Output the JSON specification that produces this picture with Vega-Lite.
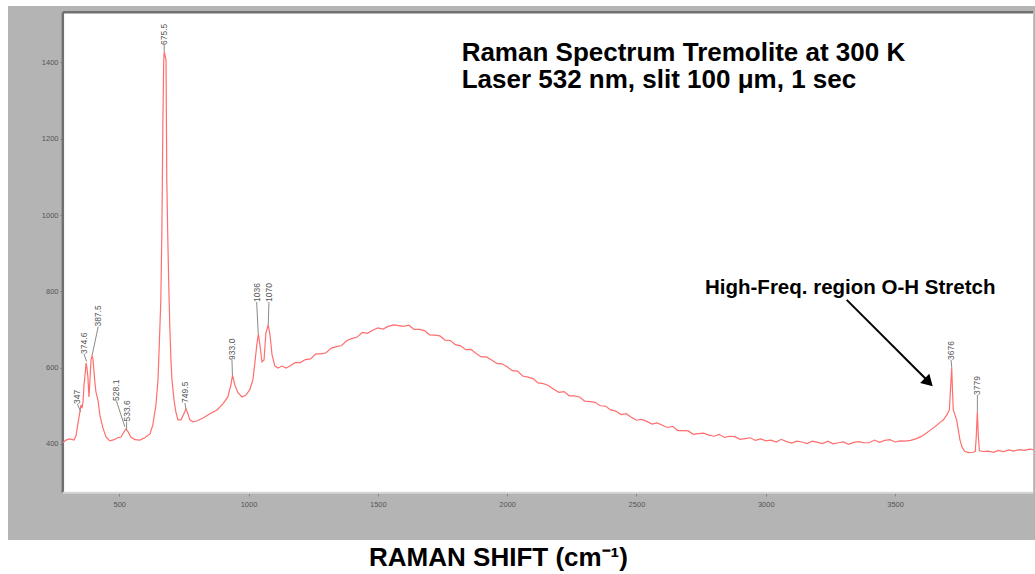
{
  "$schema": "https://vega.github.io/schema/vega-lite/v6.json",
  "width": 1027,
  "height": 534,
  "autosize": {"type": "none"},
  "padding": {"left": 8, "top": 6, "right": 0, "bottom": 34},
  "background": "white",
  "config": {
    "view": {"fill": "#b4b4b4", "stroke": null},
    "font": "Liberation Sans"
  },
  "datasets": {
    "spectrum": [
      {"x": 282, "y": 403}, {"x": 294, "y": 410}, {"x": 309, "y": 413}, {"x": 325, "y": 410},
      {"x": 333, "y": 421}, {"x": 340, "y": 452}, {"x": 348, "y": 484}, {"x": 352, "y": 502},
      {"x": 356, "y": 494}, {"x": 360, "y": 510}, {"x": 364, "y": 555}, {"x": 368, "y": 581},
      {"x": 372, "y": 612}, {"x": 375, "y": 600}, {"x": 379, "y": 575}, {"x": 383, "y": 523},
      {"x": 387, "y": 568}, {"x": 391, "y": 620}, {"x": 395, "y": 631}, {"x": 398, "y": 625},
      {"x": 402, "y": 594}, {"x": 406, "y": 562}, {"x": 410, "y": 536}, {"x": 418, "y": 515},
      {"x": 425, "y": 476}, {"x": 437, "y": 442}, {"x": 449, "y": 418}, {"x": 464, "y": 408},
      {"x": 480, "y": 411}, {"x": 495, "y": 416}, {"x": 507, "y": 418}, {"x": 518, "y": 431},
      {"x": 526, "y": 439}, {"x": 534, "y": 432}, {"x": 545, "y": 418}, {"x": 561, "y": 411},
      {"x": 580, "y": 410}, {"x": 599, "y": 416}, {"x": 619, "y": 426}, {"x": 630, "y": 450},
      {"x": 642, "y": 502}, {"x": 650, "y": 568}, {"x": 657, "y": 699}, {"x": 661, "y": 778},
      {"x": 665, "y": 961}, {"x": 669, "y": 1249}, {"x": 672, "y": 1400}, {"x": 674, "y": 1428},
      {"x": 677, "y": 1420}, {"x": 681, "y": 1406}, {"x": 684, "y": 1092}, {"x": 688, "y": 935},
      {"x": 692, "y": 804}, {"x": 696, "y": 699}, {"x": 700, "y": 620}, {"x": 704, "y": 568},
      {"x": 712, "y": 515}, {"x": 719, "y": 484}, {"x": 727, "y": 463}, {"x": 739, "y": 463},
      {"x": 750, "y": 479}, {"x": 758, "y": 492}, {"x": 766, "y": 479}, {"x": 773, "y": 463},
      {"x": 785, "y": 458}, {"x": 800, "y": 460}, {"x": 824, "y": 468}, {"x": 851, "y": 479},
      {"x": 878, "y": 489}, {"x": 901, "y": 505}, {"x": 920, "y": 523}, {"x": 932, "y": 555},
      {"x": 938, "y": 580}, {"x": 947, "y": 555}, {"x": 959, "y": 534}, {"x": 975, "y": 523},
      {"x": 990, "y": 528}, {"x": 1005, "y": 542}, {"x": 1017, "y": 568}, {"x": 1025, "y": 615},
      {"x": 1032, "y": 660}, {"x": 1038, "y": 688}, {"x": 1044, "y": 660}, {"x": 1052, "y": 615},
      {"x": 1060, "y": 620}, {"x": 1067, "y": 690}, {"x": 1076, "y": 712}, {"x": 1083, "y": 686},
      {"x": 1091, "y": 633}, {"x": 1102, "y": 604}, {"x": 1114, "y": 599}, {"x": 1129, "y": 604},
      {"x": 1145, "y": 599}, {"x": 1160, "y": 604},
      {"x": 1180, "y": 613}, {"x": 1200, "y": 613}, {"x": 1220, "y": 621}, {"x": 1240, "y": 623},
      {"x": 1260, "y": 636}, {"x": 1280, "y": 636}, {"x": 1300, "y": 639}, {"x": 1320, "y": 651},
      {"x": 1340, "y": 655}, {"x": 1360, "y": 658}, {"x": 1380, "y": 671}, {"x": 1400, "y": 676},
      {"x": 1420, "y": 680}, {"x": 1440, "y": 692}, {"x": 1460, "y": 690}, {"x": 1480, "y": 698},
      {"x": 1500, "y": 704}, {"x": 1520, "y": 701}, {"x": 1540, "y": 708}, {"x": 1560, "y": 712},
      {"x": 1580, "y": 710}, {"x": 1600, "y": 708}, {"x": 1620, "y": 711}, {"x": 1640, "y": 700},
      {"x": 1660, "y": 700}, {"x": 1680, "y": 697}, {"x": 1700, "y": 686}, {"x": 1720, "y": 685},
      {"x": 1740, "y": 683}, {"x": 1760, "y": 672}, {"x": 1780, "y": 671}, {"x": 1800, "y": 660},
      {"x": 1820, "y": 657}, {"x": 1840, "y": 647}, {"x": 1860, "y": 648}, {"x": 1880, "y": 637},
      {"x": 1900, "y": 628}, {"x": 1920, "y": 628}, {"x": 1940, "y": 620}, {"x": 1960, "y": 611},
      {"x": 1980, "y": 610}, {"x": 2000, "y": 602}, {"x": 2020, "y": 592}, {"x": 2040, "y": 591},
      {"x": 2060, "y": 578}, {"x": 2080, "y": 575}, {"x": 2100, "y": 571}, {"x": 2120, "y": 560},
      {"x": 2140, "y": 558}, {"x": 2160, "y": 553}, {"x": 2180, "y": 543}, {"x": 2200, "y": 535},
      {"x": 2220, "y": 537}, {"x": 2240, "y": 526}, {"x": 2260, "y": 526}, {"x": 2280, "y": 523},
      {"x": 2300, "y": 512}, {"x": 2320, "y": 511}, {"x": 2340, "y": 509}, {"x": 2360, "y": 500},
      {"x": 2380, "y": 499}, {"x": 2400, "y": 489}, {"x": 2420, "y": 486}, {"x": 2440, "y": 477},
      {"x": 2460, "y": 479}, {"x": 2480, "y": 470}, {"x": 2500, "y": 462}, {"x": 2520, "y": 464},
      {"x": 2540, "y": 459}, {"x": 2560, "y": 452}, {"x": 2580, "y": 455}, {"x": 2600, "y": 449},
      {"x": 2620, "y": 443}, {"x": 2640, "y": 446}, {"x": 2660, "y": 435}, {"x": 2680, "y": 435},
      {"x": 2700, "y": 434}, {"x": 2720, "y": 425}, {"x": 2740, "y": 427}, {"x": 2760, "y": 428},
      {"x": 2780, "y": 423}, {"x": 2800, "y": 420}, {"x": 2820, "y": 425}, {"x": 2840, "y": 417},
      {"x": 2860, "y": 420}, {"x": 2880, "y": 419}, {"x": 2900, "y": 412}, {"x": 2920, "y": 414},
      {"x": 2940, "y": 416}, {"x": 2960, "y": 409}, {"x": 2980, "y": 413}, {"x": 3000, "y": 408},
      {"x": 3020, "y": 410}, {"x": 3040, "y": 405}, {"x": 3060, "y": 412}, {"x": 3080, "y": 406},
      {"x": 3100, "y": 402}, {"x": 3120, "y": 407}, {"x": 3140, "y": 405}, {"x": 3160, "y": 401},
      {"x": 3180, "y": 407}, {"x": 3200, "y": 404}, {"x": 3220, "y": 401}, {"x": 3240, "y": 407},
      {"x": 3260, "y": 400}, {"x": 3280, "y": 403}, {"x": 3300, "y": 405}, {"x": 3320, "y": 399},
      {"x": 3340, "y": 404}, {"x": 3360, "y": 406}, {"x": 3380, "y": 403}, {"x": 3400, "y": 403},
      {"x": 3420, "y": 410}, {"x": 3440, "y": 404}, {"x": 3460, "y": 409}, {"x": 3480, "y": 411},
      {"x": 3500, "y": 405}, {"x": 3520, "y": 408}, {"x": 3540, "y": 407}, {"x": 3560, "y": 409},
      {"x": 3580, "y": 413}, {"x": 3600, "y": 419}, {"x": 3620, "y": 428}, {"x": 3640, "y": 438},
      {"x": 3660, "y": 448}, {"x": 3675, "y": 457}, {"x": 3687, "y": 463}, {"x": 3700, "y": 476},
      {"x": 3710, "y": 489}, {"x": 3714, "y": 540}, {"x": 3719, "y": 599}, {"x": 3722, "y": 540},
      {"x": 3725, "y": 489}, {"x": 3738, "y": 463}, {"x": 3751, "y": 410}, {"x": 3760, "y": 390},
      {"x": 3770, "y": 380}, {"x": 3785, "y": 377}, {"x": 3800, "y": 378}, {"x": 3810, "y": 380},
      {"x": 3814, "y": 420}, {"x": 3818, "y": 485}, {"x": 3822, "y": 420}, {"x": 3826, "y": 382},
      {"x": 3840, "y": 380}, {"x": 3860, "y": 381}, {"x": 3880, "y": 378}, {"x": 3900, "y": 383},
      {"x": 3920, "y": 380}, {"x": 3940, "y": 384}, {"x": 3960, "y": 381}, {"x": 3980, "y": 385},
      {"x": 4000, "y": 383}, {"x": 4020, "y": 386}, {"x": 4034, "y": 385}
    ],
    "peaks": [
      {"label": "347", "px": 350.7, "py": 484.7, "lx": 338.3, "ly": 504.8},
      {"label": "374.6", "px": 373.9, "py": 615.7, "lx": 363.5, "ly": 635.9},
      {"label": "387.5", "px": 395.6, "py": 633.3, "lx": 418.8, "ly": 707.5},
      {"label": "528.1", "px": 522, "py": 444.6, "lx": 489.2, "ly": 512.7},
      {"label": "533.6", "px": 528.6, "py": 436.7, "lx": 528.6, "ly": 458.5},
      {"label": "675.5", "px": 674, "py": 1428.3, "lx": 674, "ly": 1445.9},
      {"label": "749.5", "px": 758, "py": 491.7, "lx": 754.1, "ly": 507.5},
      {"label": "933.0", "px": 937.8, "py": 579.6, "lx": 935.9, "ly": 620.2},
      {"label": "1036", "px": 1037.6, "py": 688.3, "lx": 1031.4, "ly": 772.2},
      {"label": "1070", "px": 1076.2, "py": 711.9, "lx": 1079, "ly": 772.2},
      {"label": "3676", "px": 3719.2, "py": 599.2, "lx": 3716.5, "ly": 620.2},
      {"label": "3779", "px": 3818.2, "py": 484.7, "lx": 3818.2, "ly": 528.4}
    ]
  },
  "layer": [
    {
      "data": {"values": [{}]},
      "mark": {"type": "rect", "fill": "white", "stroke": null},
      "encoding": {
        "x": {"datum": 282, "type": "quantitative", "scale": {"domain": [70, 4041], "nice": false, "zero": false}},
        "x2": {"datum": 4034},
        "y": {"datum": 271.6, "type": "quantitative", "scale": {"domain": [148, 1548], "nice": false, "zero": false}},
        "y2": {"datum": 1531.6}
      }
    },
    {
      "data": {"values": [{}]},
      "mark": {"type": "rule", "color": "#707070", "strokeWidth": 2.5},
      "encoding": {
        "x": {"datum": 282, "type": "quantitative"},
        "y": {"datum": 271.6, "type": "quantitative"},
        "y2": {"datum": 1531.6}
      }
    },
    {
      "data": {"values": [{}]},
      "mark": {"type": "rule", "color": "#707070", "strokeWidth": 2.5},
      "encoding": {
        "x": {"datum": 282, "type": "quantitative"},
        "x2": {"datum": 4034},
        "y": {"datum": 1531.6, "type": "quantitative"}
      }
    },
    {
      "data": {"values": [{}]},
      "mark": {"type": "rule", "color": "#d6d6d6", "strokeWidth": 2},
      "encoding": {
        "x": {"datum": 282, "type": "quantitative"},
        "x2": {"datum": 4034},
        "y": {"datum": 271.6, "type": "quantitative"}
      }
    },
    {
      "data": {"name": "spectrum"},
      "mark": {"type": "line", "color": "#ff6e6e", "strokeWidth": 1.2, "interpolate": "linear"},
      "encoding": {
        "x": {
          "field": "x", "type": "quantitative",
          "scale": {"domain": [70, 4041], "nice": false, "zero": false},
          "axis": {
            "values": [500, 1000, 1500, 2000, 2500, 3000, 3500], "format": "d",
            "offset": -47, "domain": false, "grid": false,
            "tickSize": 3, "tickColor": "#888888",
            "labelFontSize": 7.5, "labelColor": "#555555", "labelFont": "Liberation Sans", "labelPadding": 4,
            "title": "RAMAN SHIFT (cm⁻¹)", "titleFont": "Liberation Sans", "titleFontSize": 26,
            "titleFontWeight": "bold", "titleColor": "#000000", "titlePadding": 37, "titleX": 490
          }
        },
        "y": {
          "field": "y", "type": "quantitative",
          "scale": {"domain": [148, 1548], "nice": false, "zero": false},
          "axis": {
            "values": [400, 600, 800, 1000, 1200, 1400], "format": "d",
            "offset": -55, "domain": false, "grid": false,
            "tickSize": 3, "tickColor": "#888888",
            "labelFontSize": 7.5, "labelColor": "#555555", "labelFont": "Liberation Sans", "labelPadding": 2,
            "title": null
          }
        }
      }
    },
    {
      "data": {"name": "peaks"},
      "mark": {"type": "rule", "color": "#8a8a8a", "strokeWidth": 1},
      "encoding": {
        "x": {"field": "px", "type": "quantitative"},
        "y": {"field": "py", "type": "quantitative"},
        "x2": {"field": "lx"},
        "y2": {"field": "ly"}
      }
    },
    {
      "data": {"name": "peaks"},
      "mark": {"type": "text", "angle": -90, "align": "left", "baseline": "middle", "fontSize": 8.5, "color": "#555555", "font": "Liberation Sans"},
      "encoding": {
        "x": {"field": "lx", "type": "quantitative"},
        "y": {"field": "ly", "type": "quantitative"},
        "text": {"field": "label"}
      }
    },
    {
      "data": {"values": [{}]},
      "mark": {"type": "text", "align": "left", "baseline": "alphabetic", "fontSize": 26, "fontWeight": "bold", "font": "Liberation Sans", "color": "#000000", "lineHeight": 27.6},
      "encoding": {
        "x": {"datum": 1824, "type": "quantitative"},
        "y": {"datum": 1404.7, "type": "quantitative"},
        "text": {"value": ["Raman Spectrum Tremolite at 300 K", "Laser 532 nm, slit 100 μm, 1 sec"]}
      }
    },
    {
      "data": {"values": [{}]},
      "mark": {"type": "text", "align": "left", "baseline": "alphabetic", "fontSize": 20.5, "fontWeight": "bold", "font": "Liberation Sans", "color": "#000000"},
      "encoding": {
        "x": {"datum": 2765, "type": "quantitative"},
        "y": {"datum": 793.2, "type": "quantitative"},
        "text": {"value": "High-Freq. region O-H Stretch"}
      }
    },
    {
      "data": {"values": [{}]},
      "mark": {"type": "rule", "color": "#000000", "strokeWidth": 2},
      "encoding": {
        "x": {"datum": 3313, "type": "quantitative"},
        "y": {"datum": 777.5, "type": "quantitative"},
        "x2": {"datum": 3625},
        "y2": {"datum": 566}
      }
    },
    {
      "data": {"values": [{}]},
      "mark": {"type": "point", "shape": "triangle-up", "angle": 135, "size": 170, "filled": true, "color": "#000000", "opacity": 1},
      "encoding": {
        "x": {"datum": 3630, "type": "quantitative"},
        "y": {"datum": 561.5, "type": "quantitative"}
      }
    }
  ]
}
